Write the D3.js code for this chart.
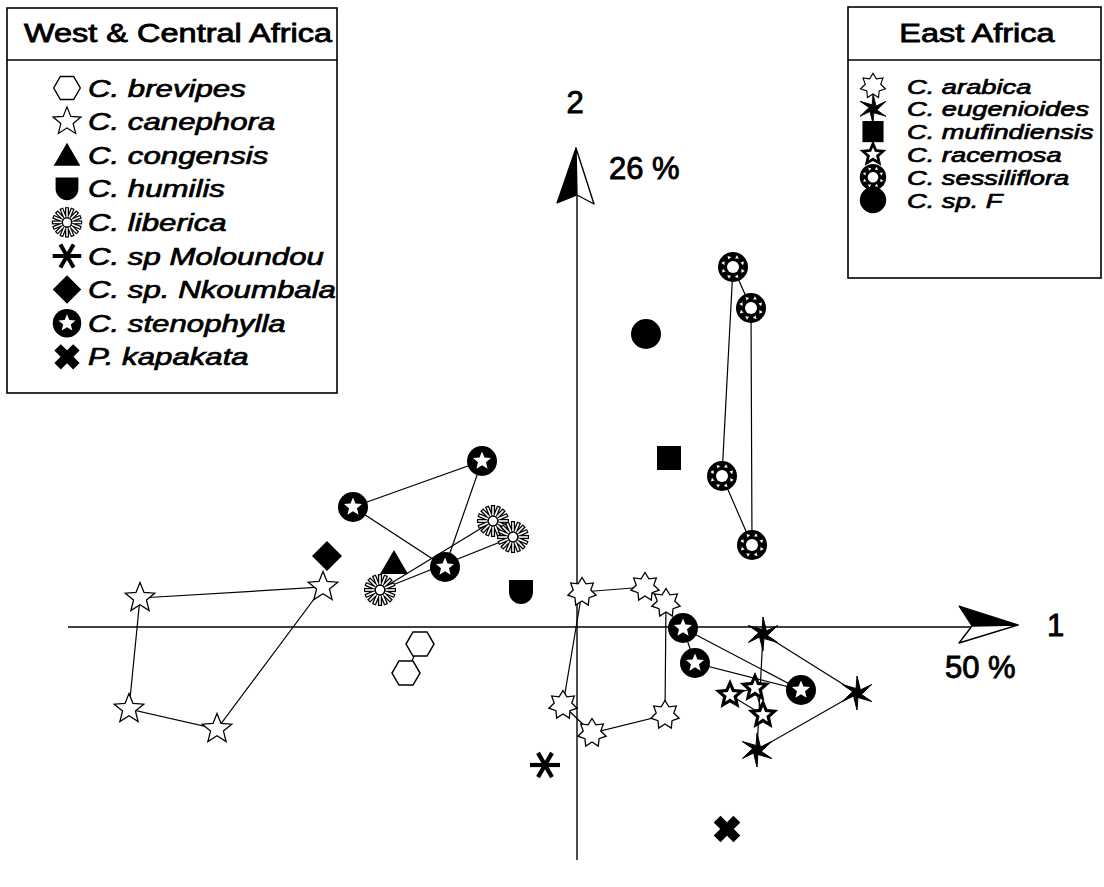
<!DOCTYPE html>
<html><head><meta charset="utf-8">
<script src="https://cdn.jsdelivr.net/npm/d3@7/dist/d3.min.js"></script>
<style>html,body{margin:0;padding:0;background:#fff;}svg{display:block;}</style>
</head><body>
<script>
// ---- data (principal coordinates, axis 1 = 50 %, axis 2 = 26 %) ----
const westTitle = "West & Central Africa";
const eastTitle = "East Africa";
const westSpecies = ["C. brevipes","C. canephora","C. congensis","C. humilis","C. liberica","C. sp Moloundou","C. sp. Nkoumbala","C. stenophylla","P. kapakata"];
const westSymbols = ["hexagon","star5","triangle","shield","burst","asterisk","diamond","stenophylla","xcross"];
const eastSpecies = ["C. arabica","C. eugenioides","C. mufindiensis","C. racemosa","C. sessiliflora","C. sp. F"];
const eastSymbols = ["star7","pinwheel","square","racemosa","sessiliflora","disc"];

const brevipes = [[-3.14,-0.34],[-3.42,-0.92]];
const canephora = [[-8.74,0.58],[-5.08,0.80],[-7.20,-2.04],[-8.96,-1.64]];
const congensis = [[-3.66,1.28]];
const humilis = [[-1.12,0.70]];
const liberica = [[-1.68,2.12],[-1.28,1.80],[-3.94,0.74]];
const moloundou = [[-0.64,-2.76]];
const nkoumbala = [[-5.00,1.42]];
const stenophyllaW = [[-4.48,2.40],[-1.90,3.32],[-2.64,1.20]];
const stenophyllaE = [[2.12,-0.02],[4.48,-1.26],[2.36,-0.72]];
const kapakata = [[3.00,-4.04]];
const arabica = [[0.10,0.70],[1.36,0.80],[1.78,0.48],[1.76,-1.76],[0.30,-2.12],[-0.28,-1.56]];
const eugenioides = [[3.72,-0.14],[5.60,-1.32],[3.60,-2.46]];
const mufindiensis = [[1.84,3.38]];
const racemosa = [[3.06,-1.36],[3.56,-1.22],[3.72,-1.76]];
const sessiliflora = [[3.12,7.20],[3.48,6.38],[3.50,1.64],[2.90,3.02]];
const spF = [[1.38,5.86]];

const axis1Label = "1", axis1Pct = "50 %";
const axis2Label = "2", axis2Pct = "26 %";
const axis1Range = [-10.18, 8.82];
const axis2Range = [-4.66, 9.58];

const groups = [
  {pts: canephora, sym: "star5", closed: true},
  {pts: brevipes, sym: "hexagon", closed: false},
  {pts: congensis, sym: "triangle"},
  {pts: nkoumbala, sym: "diamond"},
  {pts: humilis, sym: "shield"},
  {pts: stenophyllaW, sym: "stenophylla", closed: true},
  {pts: stenophyllaE, sym: "stenophylla", closed: true},
  {pts: liberica, sym: "burst", closed: true},
  {pts: moloundou, sym: "asterisk"},
  {pts: kapakata, sym: "xcross"},
  {pts: arabica, sym: "star7", closed: true},
  {pts: eugenioides, sym: "pinwheel", closed: true},
  {pts: racemosa, sym: "racemosa", closed: true},
  {pts: sessiliflora, sym: "sessiliflora", closed: true},
  {pts: spF, sym: "disc"},
  {pts: mufindiensis, sym: "square"}
];

// ---- drawing ----
const W = 1104, H = 887;
const svg = d3.select("body").append("svg").attr("width", W).attr("height", H);
const x = d3.scaleLinear().domain([-10, 10]).range([77, 1077]);
const y = d3.scaleLinear().domain([-10, 10]).range([1127, 127]);
const FONT = "'Liberation Sans', Arial, Helvetica, sans-serif";

function starPts(n, ro, ri, rot = -90, skew = 0) {
  const p = [];
  for (let i = 0; i < n; i++) {
    const a1 = (rot + i * 360 / n) * Math.PI / 180;
    const a2 = (rot + (i + 0.5) * 360 / n + skew) * Math.PI / 180;
    p.push([ro * Math.cos(a1), ro * Math.sin(a1)]);
    p.push([ri * Math.cos(a2), ri * Math.sin(a2)]);
  }
  return "M" + p.map(d => d[0].toFixed(2) + "," + d[1].toFixed(2)).join("L") + "Z";
}

function drawSymbol(g, type) {
  switch (type) {
    case "hexagon": {
      const r = 14, p = d3.range(6).map(i => [r * Math.cos(i * Math.PI / 3), r * Math.sin(i * Math.PI / 3)]);
      g.append("path").attr("d", "M" + p.join("L") + "Z").attr("fill", "#fff").attr("stroke", "#000").attr("stroke-width", 1.5);
      break; }
    case "star5":
      g.append("path").attr("d", starPts(5, 15.5, 6.8)).attr("fill", "#fff").attr("stroke", "#000").attr("stroke-width", 1.3);
      break;
    case "triangle":
      g.append("path").attr("d", "M0,-13L14,11L-14,11Z").attr("fill", "#000");
      break;
    case "shield":
      g.append("path").attr("d", "M-12,-12H12V0A12,12 0 0 1 -12,0Z").attr("fill", "#000");
      break;
    case "burst": {
      const n = 16;
      for (let i = 0; i < n; i++) {
        const a = i * 2 * Math.PI / n;
        g.append("line").attr("x1", 5 * Math.cos(a)).attr("y1", 5 * Math.sin(a))
          .attr("x2", 16 * Math.cos(a)).attr("y2", 16 * Math.sin(a))
          .attr("stroke", "#000").attr("stroke-width", 4.2);
      }
      for (let i = 0; i < n; i++) {
        const a = i * 2 * Math.PI / n;
        g.append("line").attr("x1", 5.5 * Math.cos(a)).attr("y1", 5.5 * Math.sin(a))
          .attr("x2", 14.8 * Math.cos(a)).attr("y2", 14.8 * Math.sin(a))
          .attr("stroke", "#fff").attr("stroke-width", 1.6);
      }
      g.append("circle").attr("r", 4.8).attr("fill", "#fff").attr("stroke", "#000").attr("stroke-width", 1.3);
      break; }
    case "asterisk": {
      g.append("line").attr("x1", -15).attr("x2", 15).attr("y1", 0).attr("y2", 0).attr("stroke", "#000").attr("stroke-width", 4.2);
      [60, 120].forEach(d => {
        const a = d * Math.PI / 180;
        g.append("line").attr("x1", -14 * Math.cos(a)).attr("y1", -14 * Math.sin(a))
          .attr("x2", 14 * Math.cos(a)).attr("y2", 14 * Math.sin(a))
          .attr("stroke", "#000").attr("stroke-width", 4.2);
      });
      break; }
    case "diamond":
      g.append("path").attr("d", "M0,-15L15,0L0,15L-15,0Z").attr("fill", "#000");
      break;
    case "stenophylla":
      g.append("circle").attr("r", 15).attr("fill", "#000");
      g.append("path").attr("d", starPts(5, 9.5, 4.2)).attr("fill", "#fff");
      break;
    case "xcross": {
      const w = 4.8, L = 14;
      g.append("path").attr("d", `M${-w},${-L}H${w}V${-w}H${L}V${w}H${w}V${L}H${-w}V${w}H${-L}V${-w}H${-w}Z`)
        .attr("transform", "rotate(45)").attr("fill", "#000");
      break; }
    case "star7":
      g.append("path").attr("d", starPts(7, 14.5, 9)).attr("fill", "#fff").attr("stroke", "#000").attr("stroke-width", 1.3);
      break;
    case "pinwheel":
      g.append("path").attr("d", starPts(6, 17, 4.6, -90, 18)).attr("fill", "#000").attr("stroke", "#000").attr("stroke-width", 1).attr("stroke-linejoin", "round");
      break;
    case "square":
      g.append("rect").attr("x", -12).attr("y", -12).attr("width", 24).attr("height", 24).attr("fill", "#000");
      break;
    case "racemosa":
      g.append("path").attr("d", starPts(5, 16, 7.4)).attr("fill", "#000");
      g.append("path").attr("d", starPts(5, 8.2, 3.6)).attr("fill", "#fff");
      break;
    case "sessiliflora":
      g.append("circle").attr("r", 15).attr("fill", "#000");
      g.append("circle").attr("r", 6).attr("fill", "#fff");
      for (let i = 0; i < 8; i++) {
        const a = (i * 45 + 22.5) * Math.PI / 180;
        g.append("path").attr("d", starPts(3, 2.2, 1.1, i * 45))
          .attr("transform", `translate(${10.3 * Math.cos(a)},${10.3 * Math.sin(a)})`).attr("fill", "#fff");
      }
      break;
    case "disc":
      g.append("circle").attr("r", 15).attr("fill", "#000");
      break;
  }
}

// axes
const ax = svg.append("g");
const x0 = x(0), y0 = y(0);
const hTip = x(axis1Range[1]), vTip = y(axis2Range[1]);
ax.append("line").attr("x1", x(axis1Range[0])).attr("x2", hTip - 46).attr("y1", y0).attr("y2", y0)
  .attr("stroke", "#000").attr("stroke-width", 1.4);
ax.append("line").attr("x1", x0).attr("x2", x0).attr("y1", y(axis2Range[0])).attr("y2", vTip + 47)
  .attr("stroke", "#000").attr("stroke-width", 1.4);
// arrowheads
ax.append("path").attr("d", `M${hTip},${y0 - 2}L${hTip - 59},${y0 - 21}L${hTip - 46},${y0 - 1}Z`).attr("fill", "#000").attr("stroke", "#000").attr("stroke-width", 1.2).attr("stroke-linejoin", "round");
ax.append("path").attr("d", `M${hTip},${y0 - 2}L${hTip - 46},${y0 - 1}L${hTip - 59},${y0 + 16}Z`).attr("fill", "#fff").attr("stroke", "#000").attr("stroke-width", 1.4).attr("stroke-linejoin", "round");
ax.append("path").attr("d", `M${x0 - 1},${vTip}L${x0 - 20},${vTip + 55}L${x0},${vTip + 47}Z`).attr("fill", "#000").attr("stroke", "#000").attr("stroke-width", 1.2).attr("stroke-linejoin", "round");
ax.append("path").attr("d", `M${x0 - 1},${vTip}L${x0},${vTip + 47}L${x0 + 17},${vTip + 56}Z`).attr("fill", "#fff").attr("stroke", "#000").attr("stroke-width", 1.4).attr("stroke-linejoin", "round");

const axText = (t, px, py, anchor) => svg.append("text").attr("x", px).attr("y", py).attr("text-anchor", anchor)
  .attr("font-family", FONT).attr("font-size", 31).attr("fill", "#000").attr("stroke", "#000").attr("stroke-width", 0.9).text(t);
axText(axis2Label, x0 - 2, vTip - 35, "middle");
axText(axis2Pct, x0 + 32, vTip + 31, "start");
axText(axis1Label, hTip + 29, y0 + 9, "start");
axText(axis1Pct, hTip - 73, y0 + 51, "start");

// connecting lines
const lineGen = d3.line().x(d => x(d[0])).y(d => y(d[1]));
const linesG = svg.append("g");
groups.filter(g => g.pts.length > 1).forEach(g => {
  const pts = g.closed ? g.pts.concat([g.pts[0]]) : g.pts;
  linesG.append("path").attr("d", lineGen(pts)).attr("fill", "none").attr("stroke", "#000").attr("stroke-width", 1.2);
});

// markers
const marks = svg.append("g");
groups.forEach(g => {
  g.pts.forEach(p => {
    const mg = marks.append("g").attr("transform", `translate(${x(p[0])},${y(p[1])})`);
    drawSymbol(mg, g.sym);
  });
});

// legends
function legend(box, title, names, syms, opt) {
  const lg = svg.append("g");
  lg.append("rect").attr("x", box[0]).attr("y", box[1]).attr("width", box[2] - box[0]).attr("height", box[3] - box[1])
    .attr("fill", "#fff").attr("stroke", "#000").attr("stroke-width", 1.6);
  lg.append("line").attr("x1", box[0]).attr("x2", box[2]).attr("y1", opt.sep).attr("y2", opt.sep)
    .attr("stroke", "#000").attr("stroke-width", 1.6);
  lg.append("g").attr("transform", `translate(${opt.titleX},${opt.titleY}) scale(1.3,1)`)
    .append("text").attr("text-anchor", "middle").attr("font-family", FONT).attr("font-size", 25)
    .attr("fill", "#000").attr("stroke", "#000").attr("stroke-width", 0.8).text(title);
  names.forEach((n, i) => {
    const ry = opt.rowY0 + i * opt.rowH;
    const sg = lg.append("g").attr("transform", `translate(${opt.symX},${ry}) scale(${opt.symS})`);
    drawSymbol(sg, syms[i]);
    lg.append("g").attr("transform", `translate(${opt.textX},${ry + opt.fs * 0.36}) scale(1.3,1)`)
      .append("text").attr("font-family", FONT).attr("font-style", "italic").attr("font-size", opt.fs)
      .attr("fill", "#000").attr("stroke", "#000").attr("stroke-width", 0.7).text(n);
  });
}
legend([7, 8, 337, 393], westTitle, westSpecies, westSymbols,
  {sep: 60, titleX: 178, titleY: 42, rowY0: 88, rowH: 33.6, symX: 67, symS: 0.95, textX: 88, fs: 24});
legend([848, 7, 1101, 278], eastTitle, eastSpecies, eastSymbols,
  {sep: 60, titleX: 977, titleY: 42, rowY0: 86, rowH: 22.8, symX: 873, symS: 0.88, textX: 907, fs: 21});
</script>
</body></html>
